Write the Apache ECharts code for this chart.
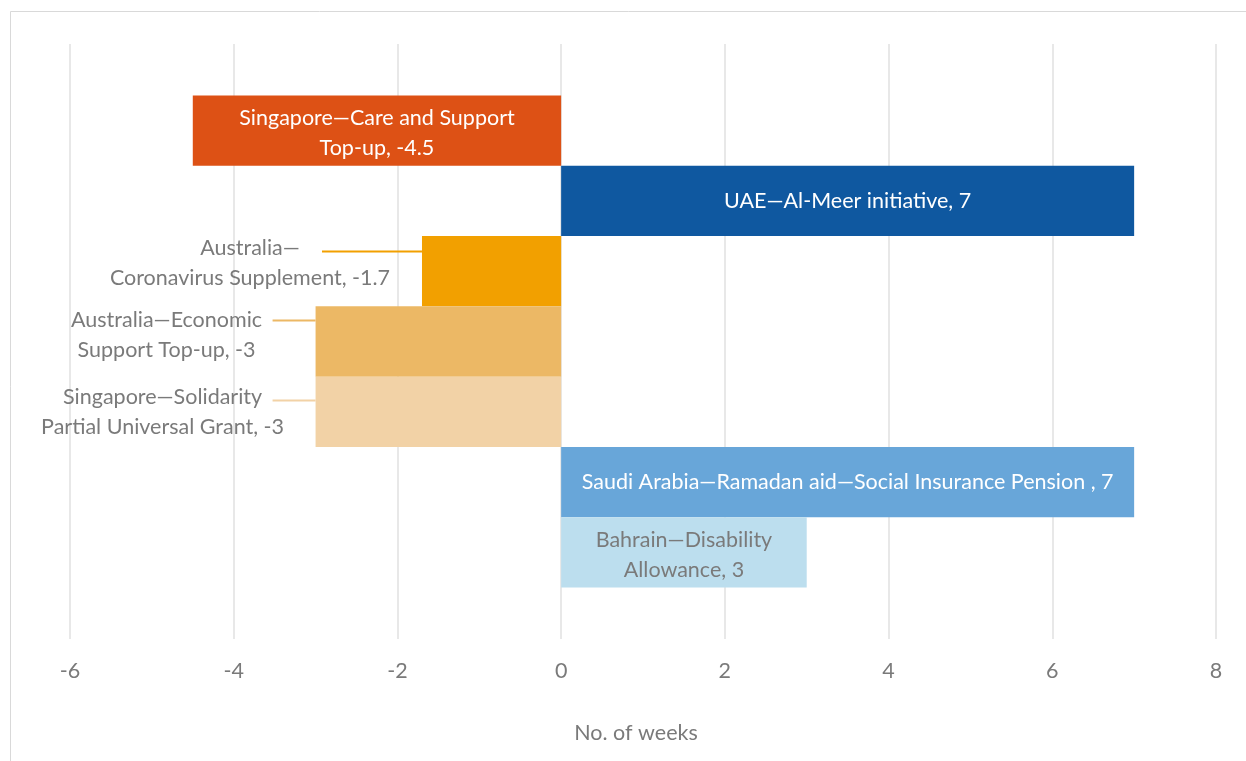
<!DOCTYPE html>
<html>
<head>
<meta charset="utf-8">
<script src="https://cdn.jsdelivr.net/npm/echarts@6/dist/echarts.min.js"></script>
<style>
html,body{margin:0;padding:0;background:#fff;}
#chart{width:1246px;height:761px;}
</style>
</head>
<body>
<div id="chart"></div>
<script>
// ---- data ----
const programmes = [
  "Singapore—Care and Support\nTop-up",
  "UAE—Al-Meer initiative",
  "Australia—\nCoronavirus Supplement",
  "Australia—Economic\nSupport Top-up",
  "Singapore—Solidarity\nPartial Universal Grant",
  "Saudi Arabia—Ramadan aid—Social Insurance Pension ",
  "Bahrain—Disability\nAllowance"
];
const weeks = [-4.5, 7, -1.7, -3, -3, 7, 3];
const xTicks = [-6, -4, -2, 0, 2, 4, 6, 8];
const axisTitle = "No. of weeks";

// ---- styles ----
const barColors = ["#DD5115", "#0F58A0", "#F2A000", "#ECB865", "#F2D2A6", "#68A6D9", "#BCDEEE"];
const labelColors = ["#ffffff", "#ffffff", "#7a7a7a", "#7a7a7a", "#7a7a7a", "#ffffff", "#7a7a7a"];
// outside label placement relative to bar rect: [label centre dx, label centre dy, leader dy, leader start dx]
const outside = {
  2: [-172, 27, 15, -100],
  3: [-149, 29, 14, -43],
  4: [-153, 35, 23, -43]
};
const FONT = "Lato, 'Open Sans', sans-serif";
const FS = 21.5;

const series = programmes.map((name, i) => {
  const s = {
    type: 'bar',
    name: name,
    data: [weeks[i]],
    barGap: '0%',
    barCategoryGap: '17.3%',
    itemStyle: { color: barColors[i] },
    label: {
      show: true,
      position: 'inside',
      offset: [0, name.indexOf('\n') >= 0 ? 2.5 : 0],
      formatter: () => name + ', ' + weeks[i],
      color: labelColors[i],
      fontFamily: FONT,
      fontSize: FS,
      lineHeight: 30,
      align: 'center'
    }
  };
  if (outside[i]) {
    const o = outside[i];
    s.labelLayout = function (p) {
      const r = p.rect;
      return { x: r.x + o[0], y: r.y + o[1], align: 'center', verticalAlign: 'middle' };
    };
  }
  return s;
});

const chart = echarts.init(document.getElementById('chart'), null, { renderer: 'canvas' });
const border = {
  type: 'rect', id: 'border',
  shape: { x: 10.5, y: 11.5, width: 1300, height: 800 },
  style: { fill: 'none', stroke: '#d9d9d9', lineWidth: 1 },
  silent: true
};
chart.setOption({
  animation: false,
  backgroundColor: '#ffffff',
  grid: { left: 70, right: 30, top: 44, bottom: 122 },
  graphic: [border],
  xAxis: {
    type: 'value',
    min: xTicks[0],
    max: xTicks[xTicks.length - 1],
    interval: 2,
    axisLine: { show: false },
    axisTick: { show: false },
    splitLine: { show: true, lineStyle: { color: '#e0e0e0', width: 1.5 } },
    axisLabel: { color: '#7a7a7a', fontFamily: FONT, fontSize: FS, margin: 21 },
    name: axisTitle,
    nameLocation: 'middle',
    nameGap: 83,
    nameTextStyle: { color: '#7a7a7a', fontFamily: FONT, fontSize: FS, padding: [0, 14, 0, 0] }
  },
  yAxis: {
    type: 'category',
    data: [''],
    axisLine: { show: false },
    axisTick: { show: false },
    axisLabel: { show: false },
    splitLine: { show: false }
  },
  series: series
});

// leader lines drawn from the library's own bar layout
const leaders = [];
Object.keys(outside).forEach(k => {
  const i = +k, o = outside[i];
  const lay = chart.getModel().getSeriesByIndex(i).getData().getItemLayout(0);
  const left = Math.min(lay.x, lay.x + lay.width);
  const top = Math.min(lay.y, lay.y + lay.height);
  const y = Math.round(top + o[2]) + 0.5;
  leaders.push({
    type: 'line', silent: true, z: 10,
    shape: { x1: left + o[3], y1: y, x2: left, y2: y },
    style: { stroke: barColors[i], lineWidth: 2 }
  });
});
chart.setOption({ graphic: [border].concat(leaders) }, { replaceMerge: ['graphic'] });
</script>
</body>
</html>
